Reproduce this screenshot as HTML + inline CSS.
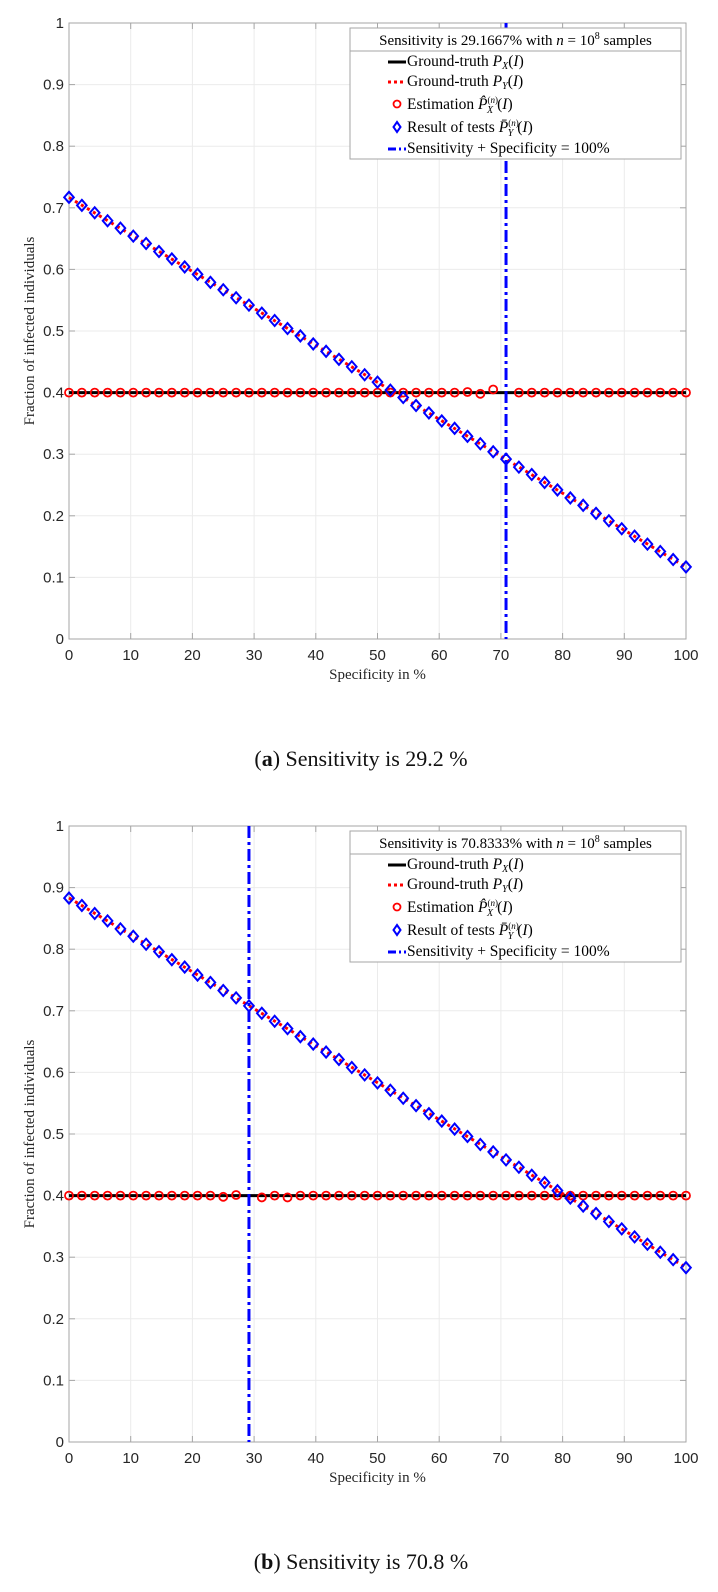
<!DOCTYPE html>
<html><head><meta charset="utf-8"><style>
body{margin:0;background:#fff;width:718px;height:1592px;overflow:hidden}
svg{position:absolute;left:0;top:0}
text{font-family:"Liberation Sans",sans-serif}
.serif{font-family:"Liberation Serif",serif}
</style></head><body>
<svg id="svg" width="718" height="1592"></svg>
<script>
const xTicks=[0,10,20,30,40,50,60,70,80,90,100];
const yTicks=[0,0.1,0.2,0.3,0.4,0.5,0.6,0.7,0.8,0.9,1];
const yTickLabels=["0","0.1","0.2","0.3","0.4","0.5","0.6","0.7","0.8","0.9","1"];
const specA=[0,2.083,4.167,6.25,8.333,10.417,12.5,14.583,16.667,18.75,20.833,22.917,25,27.083,29.167,31.25,33.333,35.417,37.5,39.583,41.667,43.75,45.833,47.917,50,52.083,54.167,56.25,58.333,60.417,62.5,64.583,66.667,68.75,70.833,72.917,75,77.083,79.167,81.25,83.333,85.417,87.5,89.583,91.667,93.75,95.833,97.917,100];
const pxA=[0.4,0.4,0.4,0.4,0.4,0.4,0.4,0.4,0.4,0.4,0.4,0.4,0.4,0.4,0.4,0.4,0.4,0.4,0.4,0.4,0.4,0.4,0.4,0.4,0.4,0.4,0.4,0.4,0.4,0.4,0.4,0.401,0.398,0.405,null,0.4,0.4,0.4,0.4,0.4,0.4,0.4,0.4,0.4,0.4,0.4,0.4,0.4,0.4];
const pyA=[0.717,0.704,0.692,0.679,0.667,0.654,0.642,0.629,0.617,0.604,0.592,0.579,0.567,0.554,0.542,0.529,0.517,0.504,0.492,0.479,0.467,0.454,0.442,0.429,0.417,0.404,0.392,0.379,0.367,0.354,0.342,0.329,0.317,0.304,0.292,0.279,0.267,0.254,0.242,0.229,0.217,0.204,0.192,0.179,0.167,0.154,0.142,0.129,0.117];
const pxB=[0.4,0.4,0.4,0.4,0.4,0.4,0.4,0.4,0.4,0.4,0.4,0.4,0.398,0.401,null,0.397,0.4,0.397,0.4,0.4,0.4,0.4,0.4,0.4,0.4,0.4,0.4,0.4,0.4,0.4,0.4,0.4,0.4,0.4,0.4,0.4,0.4,0.4,0.4,0.4,0.4,0.4,0.4,0.4,0.4,0.4,0.4,0.4,0.4];
const pyB=[0.883,0.871,0.858,0.846,0.833,0.821,0.808,0.796,0.783,0.771,0.758,0.746,0.733,0.721,0.708,0.696,0.683,0.671,0.658,0.646,0.633,0.621,0.608,0.596,0.583,0.571,0.558,0.546,0.533,0.521,0.508,0.496,0.483,0.471,0.458,0.446,0.433,0.421,0.408,0.396,0.383,0.371,0.358,0.346,0.333,0.321,0.308,0.296,0.283];
const truthX=[0.4,0.4];
const truthYA=[0.7167,0.1167];
const truthYB=[0.8833,0.2833];
const vlineA=70.833, vlineB=29.167;
const NS="http://www.w3.org/2000/svg";
const svg=document.getElementById('svg');
function mk(tag,attrs,parent,txt){const e=document.createElementNS(NS,tag);for(const k in attrs)e.setAttribute(k,attrs[k]);if(txt!==undefined)e.textContent=txt;(parent||svg).appendChild(e);return e;}
function chart(off,id,sensTxt,px,py,ty,vl,caption,bold){
  const L=69,R=686,T=23+off,B=639+off;
  const X=v=>L+(v/100)*(R-L), Y=v=>B-v*(B-T);
  const g=mk('g',{});  
  const grid=mk('g',{},g);  
  xTicks.forEach(t=>{mk('line',{x1:X(t),x2:X(t),y1:T,y2:B,stroke:'#ebebeb','stroke-width':1},grid);});
  yTicks.forEach(t=>{mk('line',{x1:L,x2:R,y1:Y(t),y2:Y(t),stroke:'#ebebeb','stroke-width':1},grid);});
  mk('rect',{x:L,y:T,width:R-L,height:B-T,fill:'none',stroke:'#a6a6a6','stroke-width':1},g);
  const xa=mk('g',{},g);  
  xTicks.forEach(t=>{mk('line',{x1:X(t),x2:X(t),y1:B,y2:B-6,stroke:'#a6a6a6'},xa);mk('line',{x1:X(t),x2:X(t),y1:T,y2:T+6,stroke:'#a6a6a6'},xa);
    const tx=mk('text',{x:X(t),y:B+21,'text-anchor':'middle','font-size':15,fill:'#262626'},xa,String(t));});
  const ya=mk('g',{},g);  
  yTicks.forEach((t,i)=>{mk('line',{x1:L,x2:L+6,y1:Y(t),y2:Y(t),stroke:'#a6a6a6'},ya);mk('line',{x1:R,x2:R-6,y1:Y(t),y2:Y(t),stroke:'#a6a6a6'},ya);
    const tx=mk('text',{x:L-5,y:Y(t)+5,'text-anchor':'end','font-size':15,fill:'#262626'},ya,yTickLabels[i]);});
  const xt=mk('text',{x:(L+R)/2,y:B+40,'text-anchor':'middle','font-size':15,class:'serif',fill:'#262626'},g,'Specificity in %');
   
  const yt=mk('text',{x:0,y:0,'text-anchor':'middle','font-size':15,class:'serif',fill:'#262626',transform:`translate(34,${(T+B)/2}) rotate(-90)`},g,'Fraction of infected individuals');
   
  const gx=mk('line',{x1:X(0),x2:X(100),y1:Y(truthX[0]),y2:Y(truthX[1]),stroke:'#000','stroke-width':3},g);
   
  const gy=mk('line',{x1:X(0),x2:X(100),y1:Y(ty[0]),y2:Y(ty[1]),stroke:'#f00','stroke-width':3,'stroke-dasharray':'3 4'},g);
   
  const cg=mk('g',{},g);  
  specA.forEach((s,i)=>{if(px[i]==null)return;const c=mk('circle',{cx:X(s),cy:Y(px[i]),r:4,fill:'none',stroke:'#f00','stroke-width':1.8},cg);});
  const dg=mk('g',{},g);  
  specA.forEach((s,i)=>{const x=X(s),y=Y(py[i]);const d=mk('polygon',{points:`${x},${y-5.5} ${x+4.8},${y} ${x},${y+5.5} ${x-4.8},${y}`,fill:'none',stroke:'#00f','stroke-width':2},dg);});
  const vline=mk('line',{x1:X(vl),x2:X(vl),y1:T,y2:B,stroke:'#00f','stroke-width':3,'stroke-dasharray':'12 4 3 4'},g);
   
  const lg=mk('g',{},g);  
  const lx=350,ly=28+off,lw=331,lh=131;
  mk('rect',{x:lx,y:ly,width:lw,height:lh,fill:'#fff',stroke:'#a6a6a6'},lg);
  mk('line',{x1:lx,x2:lx+lw,y1:ly+23,y2:ly+23,stroke:'#a6a6a6'},lg);
  const ti=mk('text',{x:lx+lw/2,y:ly+17,'text-anchor':'middle','font-size':15,class:'serif'},lg);
   
  ti.innerHTML=`Sensitivity is ${sensTxt}% with <tspan font-style="italic">n</tspan> = 10<tspan font-size="10" dy="-6">8</tspan><tspan dy="6"> samples</tspan>`;
  const rows=[33,53,76,99,120];
  const labels=['Ground-truth <tspan font-style="italic">P</tspan><tspan font-size="10" dy="3" font-style="italic">X</tspan><tspan dy="-3">(</tspan><tspan font-style="italic">I</tspan>)',
    'Ground-truth <tspan font-style="italic">P</tspan><tspan font-size="10" dy="3" font-style="italic">Y</tspan><tspan dy="-3">(</tspan><tspan font-style="italic">I</tspan>)',
    'Estimation <tspan font-style="italic">P̂</tspan><tspan font-size="9" dy="-6">(<tspan font-style="italic">n</tspan>)</tspan><tspan font-size="10" dx="-11" dy="10" font-style="italic">X</tspan><tspan dy="-4" dx="4">(</tspan><tspan font-style="italic">I</tspan>)',
    'Result of tests <tspan font-style="italic">P̄</tspan><tspan font-size="9" dy="-6">(<tspan font-style="italic">n</tspan>)</tspan><tspan font-size="10" dx="-11" dy="10" font-style="italic">Y</tspan><tspan dy="-4" dx="4">(</tspan><tspan font-style="italic">I</tspan>)',
    'Sensitivity + Specificity = 100%'];
  rows.forEach((r,i)=>{const y=ly+r+5;
    const e=mk('g',{},lg);  
    const cx=397;
    if(i==0)mk('line',{x1:388,x2:406,y1:y-4,y2:y-4,stroke:'#000','stroke-width':3},e);
    if(i==1)mk('line',{x1:388,x2:406,y1:y-4,y2:y-4,stroke:'#f00','stroke-width':3,'stroke-dasharray':'3 3'},e);
    if(i==2)mk('circle',{cx:cx,cy:y-5,r:3.5,fill:'none',stroke:'#f00','stroke-width':1.8},e);
    if(i==3)mk('polygon',{points:`${cx},${y-10} ${cx+3.5},${y-5} ${cx},${y} ${cx-3.5},${y-5}`,fill:'none',stroke:'#00f','stroke-width':2},e);
    if(i==4)mk('line',{x1:388,x2:406,y1:y-4,y2:y-4,stroke:'#00f','stroke-width':3,'stroke-dasharray':'8 3 2 3'},e);
    const t=mk('text',{x:407,y:y,'font-size':15.5,class:'serif'},e); t.innerHTML=labels[i];});
  const cap=mk('text',{x:361,y:off+766,'text-anchor':'middle','font-size':22,class:'serif',fill:'#111'},g);
   
  cap.innerHTML=`(<tspan font-weight="bold">${bold}</tspan>) ${caption}`;
}
chart(0,'a','29.1667',pxA,pyA,truthYA,vlineA,'Sensitivity is 29.2 %','a');
chart(803,'b','70.8333',pxB,pyB,truthYB,vlineB,'Sensitivity is 70.8 %','b');
</script>
</body></html>
